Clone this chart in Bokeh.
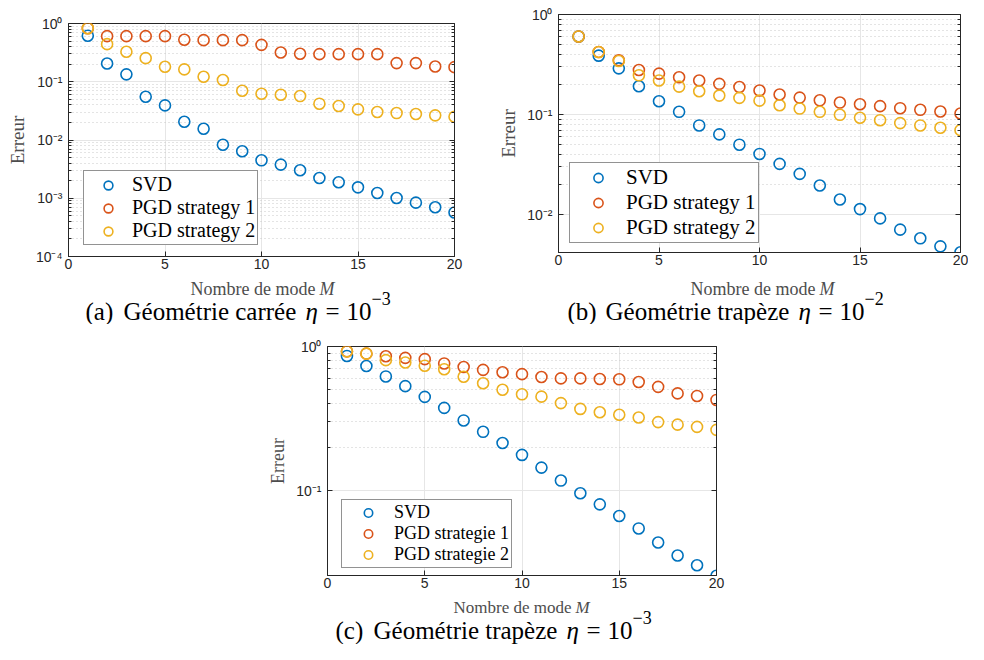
from bokeh.plotting import figure
from bokeh.models import (FixedTicker, CustomJSTickFormatter, Legend, LegendItem,
                          Label, Spacer, Range1d, LogAxis)
from bokeh.layouts import row, column
from bokeh.embed import file_html
from bokeh.resources import INLINE

# ---------------- data ----------------
M = [1, 2, 3, 4, 5, 6, 7, 8, 9, 10, 11, 12, 13, 14, 15, 16, 17, 18, 19, 20]

# (a) square geometry, eta = 1e-3
a_svd = [0.615, 0.206, 0.134, 0.0553, 0.0393, 0.0206, 0.0156, 0.0083, 0.0064, 0.00448,
         0.00378, 0.00302, 0.00223, 0.00188, 0.00154, 0.00123, 0.00101, 0.00084, 0.00070, 0.00057]
a_pgd1 = [0.83, 0.607, 0.607, 0.607, 0.607, 0.525, 0.518, 0.518, 0.518, 0.43,
          0.318, 0.302, 0.298, 0.298, 0.298, 0.298, 0.209, 0.209, 0.183, 0.178]
a_pgd2 = [0.83, 0.442, 0.327, 0.254, 0.181, 0.163, 0.122, 0.107, 0.070, 0.0623,
          0.0598, 0.0568, 0.042, 0.0383, 0.0336, 0.0302, 0.029, 0.0279, 0.0265, 0.0251]

# (b) trapezoid geometry, eta = 1e-2
b_svd = [0.604, 0.388, 0.290, 0.192, 0.136, 0.1067, 0.078, 0.0635, 0.0501, 0.0405,
         0.0322, 0.0256, 0.0196, 0.0142, 0.0114, 0.0092, 0.0071, 0.00582, 0.00484, 0.00422]
b_pgd1 = [0.604, 0.422, 0.349, 0.279, 0.257, 0.236, 0.219, 0.203, 0.189, 0.174,
          0.159, 0.148, 0.139, 0.132, 0.127, 0.1215, 0.116, 0.1117, 0.1076, 0.1027]
b_pgd2 = [0.604, 0.422, 0.343, 0.247, 0.219, 0.1906, 0.1713, 0.155, 0.147, 0.138,
          0.124, 0.115, 0.1067, 0.0996, 0.093, 0.088, 0.0823, 0.078, 0.074, 0.070]

# (c) trapezoid geometry, eta = 1e-3
c_svd = [0.86, 0.732, 0.62, 0.531, 0.447, 0.375, 0.307, 0.256, 0.214, 0.177,
         0.1446, 0.1175, 0.096, 0.0804, 0.0667, 0.0547, 0.0437, 0.0355, 0.0304, 0.0257]
c_pgd1 = [0.925, 0.892, 0.856, 0.834, 0.817, 0.763, 0.721, 0.688, 0.663, 0.643,
          0.614, 0.601, 0.601, 0.595, 0.592, 0.567, 0.525, 0.473, 0.454, 0.426]
c_pgd2 = [0.925, 0.892, 0.804, 0.775, 0.736, 0.695, 0.617, 0.556, 0.501, 0.466,
          0.449, 0.405, 0.369, 0.350, 0.336, 0.322, 0.299, 0.287, 0.277, 0.264]

x_ticks = [0, 5, 10, 15, 20]
labels_en = ["SVD", "PGD strategy 1", "PGD strategy 2"]
labels_fr = ["SVD", "PGD strategie 1", "PGD strategie 2"]
x_label = ["Nombre de mode", "M"]
y_label = "Erreur"
cap_a_words = ["(a)", "Géométrie carrée", "η", "=", "10", "−3"]
cap_b_words = ["(b)", "Géométrie trapèze", "η", "=", "10", "−2"]
cap_c_words = ["(c)", "Géométrie trapèze", "η", "=", "10", "−3"]

BLUE, RED, YEL = "#0072BD", "#D95319", "#EDB120"
SERIF = "Liberation Serif"
SANS = "Liberation Sans"
AX = "#262626"

fmt_code = """
const sup = {'0':'\u2070','1':'\u00b9','2':'\u00b2','3':'\u00b3','4':'\u2074',
             '5':'\u2075','6':'\u2076','7':'\u2077','8':'\u2078','9':'\u2079','-':'\u207b'};
const e = Math.round(Math.log10(tick));
return '10' + String(e).split('').map(c => sup[c]).join('');
"""


def decades(lo_exp):
    return [10.0 ** e for e in range(lo_exp, 1)]


def minors(lo_exp):
    out = []
    for e in range(lo_exp, 0):
        for k in range(2, 10):
            out.append(k * 10.0 ** e)
    return out


def style_ticks(ax):
    ax.axis_line_color = AX
    ax.major_tick_line_color = AX
    ax.minor_tick_line_color = AX
    ax.major_tick_in = 5
    ax.major_tick_out = 0
    ax.minor_tick_in = 3
    ax.minor_tick_out = 0


def panel(svd, pgd1, pgd2, labels, ymin, lo_exp, leg_loc, leg_font, leg_h, leg_gw,
          w, h, bl, bt, br, bb, lab_font):
    p = figure(width=w, height=h, x_range=Range1d(0, 20), title=None,
               y_range=Range1d(ymin, 1), y_axis_type="log",
               output_backend="svg", toolbar_location=None,
               min_border_left=bl, min_border_top=bt, min_border_right=br,
               min_border_bottom=bb, background_fill_color="white",
               border_fill_color="white")
    p.outline_line_color = AX
    p.outline_line_width = 1

    p.xaxis.ticker = FixedTicker(ticks=x_ticks, minor_ticks=[])
    p.yaxis.ticker = FixedTicker(ticks=decades(lo_exp), minor_ticks=minors(lo_exp))
    p.yaxis.formatter = CustomJSTickFormatter(code=fmt_code)

    for ax in (p.xaxis[0], p.yaxis[0]):
        style_ticks(ax)
        ax.major_label_text_font = SANS
        ax.major_label_text_font_size = "14px"
        ax.major_label_text_color = AX
    p.xaxis.major_label_standoff = 2
    p.yaxis.major_label_standoff = 6
    p.yaxis.axis_label = y_label
    p.yaxis.axis_label_standoff = 5
    p.yaxis.axis_label_text_font = SERIF
    p.yaxis.axis_label_text_font_size = lab_font
    p.yaxis.axis_label_text_font_style = "normal"
    p.yaxis.axis_label_text_color = "#4d4d4d"

    # box ticks on the right side (no labels)
    ra = LogAxis(ticker=FixedTicker(ticks=decades(lo_exp), minor_ticks=minors(lo_exp)),
                 formatter=CustomJSTickFormatter(code="return '';"),
                 major_label_standoff=0, major_label_text_font_size="1px")
    style_ticks(ra)
    p.add_layout(ra, "right")

    p.xgrid.grid_line_color = "#e6e6e6"
    p.ygrid.grid_line_color = "#e6e6e6"
    p.ygrid.minor_grid_line_color = "#c8c8c8"
    p.ygrid.minor_grid_line_dash = "1 3"

    r1 = p.scatter(M, svd, marker="circle", size=11, fill_color=None,
                   line_color=BLUE, line_width=1.6)
    r2 = p.scatter(M, pgd1, marker="circle", size=11, fill_color=None,
                   line_color=RED, line_width=1.6)
    r3 = p.scatter(M, pgd2, marker="circle", size=11, fill_color=None,
                   line_color=YEL, line_width=1.6)

    leg = Legend(items=[LegendItem(label=labels[0], renderers=[r1]),
                        LegendItem(label=labels[1], renderers=[r2]),
                        LegendItem(label=labels[2], renderers=[r3])],
                 location=leg_loc, margin=0, padding=2, spacing=0,
                 glyph_width=leg_gw, glyph_height=leg_h, label_standoff=2,
                 label_text_font=SERIF, label_text_font_size=leg_font,
                 label_text_color="black", label_height=leg_h,
                 border_line_color=AX, border_line_width=1,
                 background_fill_color="white", background_fill_alpha=1)
    p.add_layout(leg, "center")
    return p


def caption_fig(w, h, words, xs, base, sup_base, lab_xs, lab_base, lab_size, cap_size):
    c = figure(width=w, height=h, x_range=Range1d(0, w), y_range=Range1d(0, h),
               title=None, x_axis_type=None, y_axis_type=None, output_backend="svg",
               toolbar_location=None, min_border=0, outline_line_color=None,
               background_fill_color="white", border_fill_color="white")
    # x axis label  "Nombre de mode M"
    c.add_layout(Label(x=lab_xs[0], y=lab_base, text=x_label[0], text_font=SERIF,
                       text_font_size=lab_size, text_color="#4d4d4d",
                       text_baseline="alphabetic"))
    c.add_layout(Label(x=lab_xs[1], y=lab_base, text=x_label[1], text_font=SERIF,
                       text_font_size=lab_size, text_font_style="italic",
                       text_color="#4d4d4d", text_baseline="alphabetic"))
    # caption pieces
    for i, (txt, x) in enumerate(zip(words, xs)):
        sup = (i == len(words) - 1)
        c.add_layout(Label(x=x, y=sup_base if sup else base, text=txt,
                           text_font=SERIF,
                           text_font_size="18px" if sup else cap_size,
                           text_font_style="italic" if txt == "η" else "normal",
                           text_color="black", text_baseline="alphabetic"))
    return c


pa = panel(a_svd, a_pgd1, a_pgd2, labels_en, 1e-4, -4, (15, 11), "20px", 22, 44,
           w=464, h=267, bl=68, bt=14, br=10, bb=20, lab_font="19px")
pb = panel(b_svd, b_pgd1, b_pgd2, labels_en, 0.0042, -2, (11, 9), "21px", 23, 52,
           w=504, h=276, bl=94, bt=14, br=8, bb=24, lab_font="19px")
pc = panel(c_svd, c_pgd1, c_pgd2, labels_fr, 0.0258, -1, (14, 7), "18px", 21, 48,
           w=486, h=273, bl=77, bt=22, br=20, bb=22, lab_font="18px")

cap_a = caption_fig(464, 48, cap_a_words, [85, 123, 305, 325, 346, 371],
                    13, 26, [190, 319], 36, "18px", "25px")
cap_b = caption_fig(504, 48, cap_b_words, [103, 141, 334, 354, 375, 400],
                    13, 26, [226, 355], 36, "18px", "25px")
cap_c = caption_fig(486, 47, cap_c_words, [85, 123, 316, 336, 357, 382],
                    14, 27, [203, 325], 37, "17px", "25px")

layout = column(row(column(Spacer(width=464, height=9), pa), column(pb)),
                row(cap_a, cap_b),
                row(Spacer(width=250, height=273), pc),
                row(Spacer(width=250, height=47), cap_c))

open("out.html", "w").write(file_html(layout, INLINE))
